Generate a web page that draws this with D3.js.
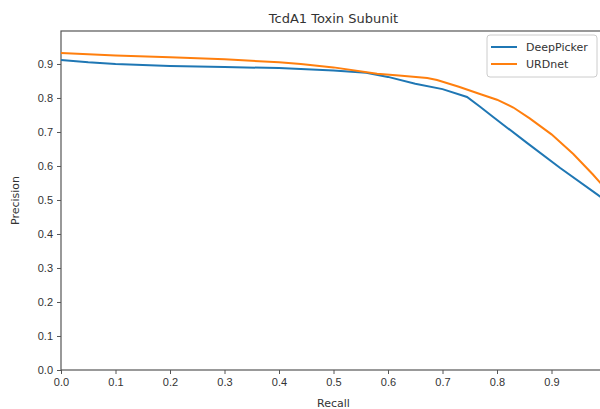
<!DOCTYPE html>
<html>
<head>
<meta charset="utf-8">
<script src="https://cdn.jsdelivr.net/npm/d3@7"></script>
<style>
  body { margin: 0; background: #fff; }
  svg { font-family: "DejaVu Sans", sans-serif; }
  .axis path, .axis line { stroke: #555; }
  .axis text { fill: #333; font-size: 11px; }
</style>
</head>
<body>
<svg id="drawing_region"></svg>
<script>
// recall / precision
const deepRecall    = [0.00, 0.05, 0.10, 0.20, 0.30, 0.40, 0.44, 0.50, 0.56, 0.60, 0.65, 0.70, 0.745, 0.769, 0.793, 0.855, 0.916, 0.985, 1.00];
const deepPrecision = [0.912, 0.905, 0.900, 0.894, 0.891, 0.888, 0.885, 0.881, 0.874, 0.862, 0.842, 0.826, 0.803, 0.774, 0.744, 0.668, 0.594, 0.515, 0.498];
const urdRecall     = [0.00, 0.10, 0.20, 0.30, 0.40, 0.44, 0.50, 0.58, 0.62, 0.672, 0.69, 0.73, 0.77, 0.80, 0.83, 0.86, 0.90, 0.94, 0.976, 1.00];
const urdPrecision  = [0.932, 0.925, 0.920, 0.914, 0.905, 0.900, 0.890, 0.871, 0.866, 0.859, 0.853, 0.833, 0.811, 0.795, 0.772, 0.740, 0.693, 0.635, 0.575, 0.532];
const seriesNames   = ['DeepPicker', 'URDnet'];
const xTicks = [0.0, 0.1, 0.2, 0.3, 0.4, 0.5, 0.6, 0.7, 0.8, 0.9];
const yTicks = [0.0, 0.1, 0.2, 0.3, 0.4, 0.5, 0.6, 0.7, 0.8, 0.9];

const config = { width: 600, height: 409, left: 61, top: 31, plotW: 545, plotH: 339 };
const colors = ['#1f77b4', '#ff7f0e'];

const svg = d3.select('#drawing_region')
    .attr('width', config.width)
    .attr('height', config.height);

const x = d3.scaleLinear().domain([0, 1]).range([config.left, config.left + config.plotW]);
const y = d3.scaleLinear().domain([0, 0.997]).range([config.top + config.plotH, config.top]);

// frame
svg.append('rect')
    .attr('x', config.left).attr('y', config.top)
    .attr('width', config.plotW).attr('height', config.plotH)
    .attr('fill', 'none').attr('stroke', '#555').attr('stroke-width', 1.2);

svg.append('g').attr('class', 'axis')
    .attr('transform', `translate(0, ${config.top + config.plotH})`)
    .call(d3.axisBottom(x).tickValues(xTicks).tickFormat(d3.format('.1f')).tickSize(4).tickPadding(4))
    .call(g => g.select('.domain').remove());

svg.append('g').attr('class', 'axis')
    .attr('transform', `translate(${config.left}, 0)`)
    .call(d3.axisLeft(y).tickValues(yTicks).tickFormat(d3.format('.1f')).tickSize(4).tickPadding(4))
    .call(g => g.select('.domain').remove());

const line = d3.line().x(d => x(d[0])).y(d => y(d[1]));
const series = [
    d3.zip(deepRecall, deepPrecision),
    d3.zip(urdRecall, urdPrecision)
];

series.forEach((s, i) => {
    svg.append('path')
        .datum(s)
        .attr('d', line)
        .attr('fill', 'none')
        .attr('stroke', colors[i])
        .attr('stroke-width', 2);
});

// title and labels
svg.append('text')
    .attr('x', config.left + config.plotW / 2).attr('y', 23)
    .attr('text-anchor', 'middle').attr('font-size', 13).attr('fill', '#333')
    .text('TcdA1 Toxin Subunit');

svg.append('text')
    .attr('x', config.left + config.plotW / 2).attr('y', 407)
    .attr('text-anchor', 'middle').attr('font-size', 11).attr('fill', '#333')
    .text('Recall');

svg.append('text')
    .attr('transform', `translate(19, ${config.top + config.plotH / 2}) rotate(-90)`)
    .attr('text-anchor', 'middle').attr('font-size', 11).attr('fill', '#333')
    .text('Precision');

// legend
const legend = svg.append('g').attr('transform', 'translate(487, 35)');
legend.append('rect')
    .attr('width', 110).attr('height', 42).attr('rx', 3)
    .attr('fill', '#fff').attr('stroke', '#ccc');

seriesNames.forEach((name, i) => {
    const g = legend.append('g').attr('transform', `translate(0, ${12 + i * 17})`);
    g.append('line')
        .attr('x1', 4).attr('x2', 30)
        .attr('stroke', colors[i]).attr('stroke-width', 2);
    g.append('text')
        .attr('x', 39).attr('dy', '0.35em')
        .attr('font-size', 11).attr('fill', '#333')
        .text(name);
});
</script>
</body>
</html>
